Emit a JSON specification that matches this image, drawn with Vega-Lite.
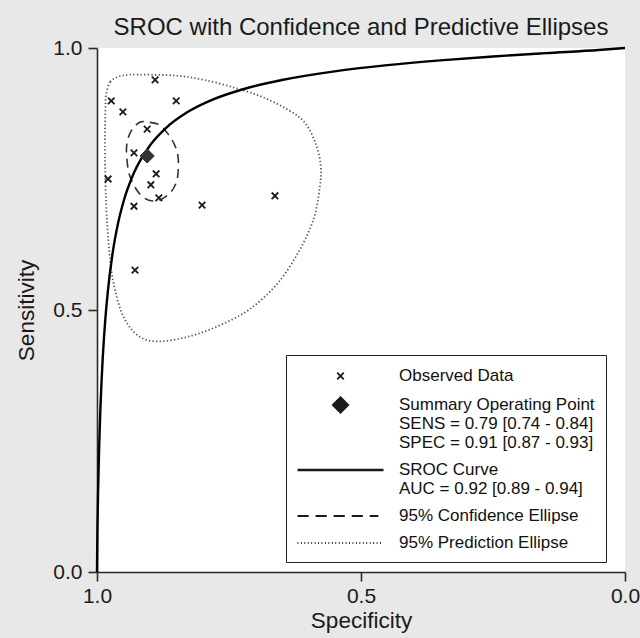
{
  "$schema": "https://vega.github.io/schema/vega-lite/v6.json",
  "width": 528,
  "height": 524,
  "autosize": {"type": "none"},
  "padding": {"left": 97, "top": 48, "right": 15, "bottom": 66},
  "background": "#e8e8e8",
  "title": {
    "text": "SROC with Confidence and Predictive Ellipses",
    "fontSize": 24,
    "fontWeight": "normal",
    "color": "#1a1a1a",
    "anchor": "middle",
    "frame": "group",
    "baseline": "alphabetic",
    "offset": -22
  },
  "config": {
    "font": "Liberation Sans",
    "view": {"fill": "white", "stroke": null},
    "axis": {
      "grid": false,
      "domainColor": "#2a2a2a",
      "domainWidth": 1.6,
      "tickColor": "#2a2a2a",
      "tickWidth": 1.6,
      "tickSize": 9,
      "labelFontSize": 21,
      "labelColor": "#1a1a1a",
      "labelPadding": 4,
      "labelFlush": false,
      "labelOverlap": false,
      "titleFontSize": 22.5,
      "titleFontWeight": "normal",
      "titleColor": "#1a1a1a"
    }
  },
  "layer": [
    {
      "data": {"values": [
        {"i": 1, "spec": 0.983, "sens": 0.910},
        {"i": 2, "spec": 0.975, "sens": 0.935},
        {"i": 3, "spec": 0.960, "sens": 0.945},
        {"i": 4, "spec": 0.938, "sens": 0.949},
        {"i": 5, "spec": 0.900, "sens": 0.949},
        {"i": 6, "spec": 0.847, "sens": 0.947},
        {"i": 7, "spec": 0.796, "sens": 0.939},
        {"i": 8, "spec": 0.739, "sens": 0.924},
        {"i": 9, "spec": 0.688, "sens": 0.907},
        {"i": 10, "spec": 0.638, "sens": 0.882},
        {"i": 11, "spec": 0.606, "sens": 0.857},
        {"i": 12, "spec": 0.585, "sens": 0.815},
        {"i": 13, "spec": 0.576, "sens": 0.773},
        {"i": 14, "spec": 0.578, "sens": 0.735},
        {"i": 15, "spec": 0.589, "sens": 0.676},
        {"i": 16, "spec": 0.616, "sens": 0.615},
        {"i": 17, "spec": 0.657, "sens": 0.552},
        {"i": 18, "spec": 0.710, "sens": 0.502},
        {"i": 19, "spec": 0.767, "sens": 0.471},
        {"i": 20, "spec": 0.824, "sens": 0.450},
        {"i": 21, "spec": 0.881, "sens": 0.440},
        {"i": 22, "spec": 0.919, "sens": 0.449},
        {"i": 23, "spec": 0.949, "sens": 0.485},
        {"i": 24, "spec": 0.968, "sens": 0.548},
        {"i": 25, "spec": 0.977, "sens": 0.615},
        {"i": 26, "spec": 0.983, "sens": 0.710},
        {"i": 27, "spec": 0.985, "sens": 0.815},
        {"i": 28, "spec": 0.984, "sens": 0.882}
      ]},
      "mark": {"type": "line", "interpolate": "cardinal-closed", "stroke": "#555555", "strokeWidth": 1.8, "strokeDash": [1.3, 2.3]},
      "encoding": {
        "x": {
          "field": "spec", "type": "quantitative",
          "scale": {"domain": [0, 1], "reverse": true, "nice": false, "zero": false},
          "axis": {"values": [0, 0.5, 1], "format": ".1f", "title": "Specificity", "titlePadding": 3}
        },
        "y": {
          "field": "sens", "type": "quantitative",
          "scale": {"domain": [0, 1], "nice": false, "zero": false},
          "axis": {"values": [0, 0.5, 1], "format": ".1f", "title": "Sensitivity", "titlePadding": 14, "labelPadding": 6}
        },
        "order": {"field": "i", "type": "quantitative"}
      }
    },
    {
      "data": {"values": [
        {"i": 1, "spec": 0.917, "sens": 0.859},
        {"i": 2, "spec": 0.900, "sens": 0.858},
        {"i": 3, "spec": 0.881, "sens": 0.853},
        {"i": 4, "spec": 0.867, "sens": 0.838},
        {"i": 5, "spec": 0.854, "sens": 0.817},
        {"i": 6, "spec": 0.847, "sens": 0.796},
        {"i": 7, "spec": 0.846, "sens": 0.771},
        {"i": 8, "spec": 0.849, "sens": 0.746},
        {"i": 9, "spec": 0.860, "sens": 0.725},
        {"i": 10, "spec": 0.877, "sens": 0.712},
        {"i": 11, "spec": 0.894, "sens": 0.708},
        {"i": 12, "spec": 0.911, "sens": 0.714},
        {"i": 13, "spec": 0.926, "sens": 0.731},
        {"i": 14, "spec": 0.938, "sens": 0.756},
        {"i": 15, "spec": 0.943, "sens": 0.784},
        {"i": 16, "spec": 0.944, "sens": 0.811},
        {"i": 17, "spec": 0.939, "sens": 0.834},
        {"i": 18, "spec": 0.930, "sens": 0.849}
      ]},
      "mark": {"type": "line", "interpolate": "cardinal-closed", "stroke": "#333333", "strokeWidth": 1.6, "strokeDash": [9, 6]},
      "encoding": {
        "x": {"field": "spec", "type": "quantitative"},
        "y": {"field": "sens", "type": "quantitative"},
        "order": {"field": "i", "type": "quantitative"}
      }
    },
    {
      "data": {"values": [
        {"spec": 1.0, "sens": 0.0},
        {"spec": 0.9995, "sens": 0.0553},
        {"spec": 0.999, "sens": 0.0924},
        {"spec": 0.998, "sens": 0.1505},
        {"spec": 0.996, "sens": 0.2358},
        {"spec": 0.994, "sens": 0.2993},
        {"spec": 0.99, "sens": 0.3918},
        {"spec": 0.985, "sens": 0.4720},
        {"spec": 0.98, "sens": 0.5302},
        {"spec": 0.97, "sens": 0.6114},
        {"spec": 0.96, "sens": 0.6662},
        {"spec": 0.95, "sens": 0.7062},
        {"spec": 0.93, "sens": 0.7618},
        {"spec": 0.90, "sens": 0.8136},
        {"spec": 0.87, "sens": 0.8468},
        {"spec": 0.83, "sens": 0.8767},
        {"spec": 0.78, "sens": 0.9018},
        {"spec": 0.72, "sens": 0.9222},
        {"spec": 0.65, "sens": 0.9389},
        {"spec": 0.55, "sens": 0.9555},
        {"spec": 0.45, "sens": 0.9673},
        {"spec": 0.35, "sens": 0.9764},
        {"spec": 0.25, "sens": 0.9838},
        {"spec": 0.15, "sens": 0.9902},
        {"spec": 0.05, "sens": 0.9962},
        {"spec": 0.0, "sens": 1.0}
      ]},
      "mark": {"type": "line", "interpolate": "monotone", "stroke": "#000000", "strokeWidth": 2.4},
      "encoding": {
        "x": {"field": "spec", "type": "quantitative"},
        "y": {"field": "sens", "type": "quantitative"},
        "order": {"field": "spec", "type": "quantitative", "sort": "descending"}
      }
    },
    {
      "data": {"values": [
        {"series": "Observed Data", "spec": 0.890, "sens": 0.939},
        {"series": "Observed Data", "spec": 0.973, "sens": 0.899},
        {"series": "Observed Data", "spec": 0.850, "sens": 0.899},
        {"series": "Observed Data", "spec": 0.951, "sens": 0.878},
        {"series": "Observed Data", "spec": 0.905, "sens": 0.845},
        {"series": "Observed Data", "spec": 0.930, "sens": 0.800},
        {"series": "Observed Data", "spec": 0.888, "sens": 0.760},
        {"series": "Observed Data", "spec": 0.898, "sens": 0.739},
        {"series": "Observed Data", "spec": 0.979, "sens": 0.750},
        {"series": "Observed Data", "spec": 0.883, "sens": 0.714},
        {"series": "Observed Data", "spec": 0.930, "sens": 0.698},
        {"series": "Observed Data", "spec": 0.801, "sens": 0.700},
        {"series": "Observed Data", "spec": 0.663, "sens": 0.718},
        {"series": "Observed Data", "spec": 0.928, "sens": 0.576}
      ]},
      "mark": {"type": "point", "filled": false, "stroke": "#1a1a1a", "strokeWidth": 1.8, "opacity": 1, "size": 294},
      "encoding": {
        "x": {"field": "spec", "type": "quantitative"},
        "y": {"field": "sens", "type": "quantitative"},
        "shape": {
          "field": "series", "type": "nominal",
          "scale": {
            "domain": [
              "Observed Data",
              "Summary Operating Point|SENS = 0.79 [0.74 - 0.84]|SPEC = 0.91 [0.87 - 0.93]",
              "SROC Curve|AUC = 0.92 [0.89 - 0.94]",
              "95% Confidence Ellipse",
              "95% Prediction Ellipse"
            ],
            "range": [
              "M-0.38,-0.38L0.38,0.38M-0.38,0.38L0.38,-0.38",
              "M0,-0.9L0.9,0L0,0.9L-0.9,0ZM0,-0.7L0.7,0L0,0.7L-0.7,0ZM0,-0.5L0.5,0L0,0.5L-0.5,0ZM0,-0.3L0.3,0L0,0.3L-0.3,0ZM0,-0.1L0.1,0L0,0.1L-0.1,0Z",
              "M-5,-0.05L5,-0.05M-5,0.05L5,0.05",
              "M-5,0L-3.7,0M-2.9,0L-1.6,0M-0.8,0L0.5,0M1.3,0L2.6,0M3.4,0L4.4,0",
              "M-5,0L-4.9,0M-4.6,0L-4.5,0M-4.2,0L-4.1,0M-3.8,0L-3.7,0M-3.4,0L-3.3,0M-3,0L-2.9,0M-2.6,0L-2.5,0M-2.2,0L-2.1,0M-1.8,0L-1.7,0M-1.4,0L-1.3,0M-1,0L-0.9,0M-0.6,0L-0.5,0M-0.2,0L-0.1,0M0.2,0L0.3,0M0.6,0L0.7,0M1,0L1.1,0M1.4,0L1.5,0M1.8,0L1.9,0M2.2,0L2.3,0M2.6,0L2.7,0M3,0L3.1,0M3.4,0L3.5,0M3.8,0L3.9,0M4.2,0L4.3,0M4.6,0L4.7,0"
            ]
          },
          "legend": {
            "title": null,
            "orient": "none",
            "direction": "vertical",
            "legendX": 189,
            "legendY": 307,
            "padding": 11,
            "fillColor": "white",
            "strokeColor": "#222222",
            "symbolSize": 296,
            "symbolStrokeWidth": 1.8,
            "symbolStrokeColor": "#1a1a1a",
            "symbolFillColor": "transparent",
            "symbolOpacity": 1,
            "symbolOffset": 33.5,
            "labelOffset": 48.5,
            "rowPadding": 9,
            "labelFont": "Liberation Sans",
            "labelFontSize": 17,
            "labelColor": "#111111",
            "labelLimit": 400,
            "labelBaseline": "middle",
            "labelExpr": "split(datum.label, '|')",
            "encode": {
              "labels": {"lineHeight": {"value": 17.5}}
            }
          }
        }
      }
    },
    {
      "data": {"values": [
        {"series": "Summary Operating Point|SENS = 0.79 [0.74 - 0.84]|SPEC = 0.91 [0.87 - 0.93]", "spec": 0.905, "sens": 0.794}
      ]},
      "mark": {"type": "point", "filled": true, "fill": "#333333", "stroke": "#333333", "strokeWidth": 1, "opacity": 1, "size": 250},
      "encoding": {
        "x": {"field": "spec", "type": "quantitative"},
        "y": {"field": "sens", "type": "quantitative"},
        "shape": {"field": "series", "type": "nominal"}
      }
    }
  ]
}
